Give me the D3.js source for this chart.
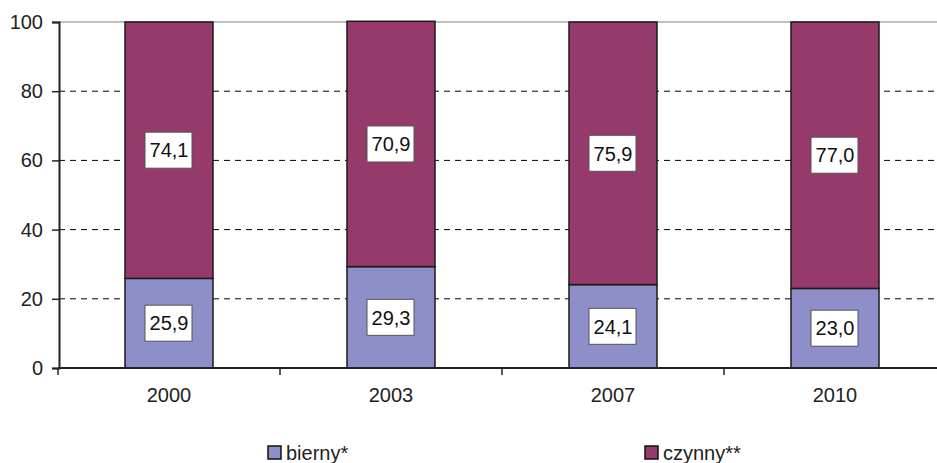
<!DOCTYPE html>
<html><head><meta charset="utf-8">
<script src="https://cdn.jsdelivr.net/npm/d3@7"></script>
<style>body{margin:0;background:#fff}svg{display:block}</style>
</head><body>
<script>
const categories = ["2000","2003","2007","2010"];
const bierny = [25.9, 29.3, 24.1, 23.0];
const czynny = [74.1, 70.9, 75.9, 77.0];
const seriesNames = ["bierny*","czynny**"];
const yTicks = [0,20,40,60,80,100];
const colors = ["#8E8EC8","#963A6B"];

const W=937,H=463;
const svg=d3.select("body").append("svg").attr("width",W).attr("height",H);
const font="Liberation Sans, Arial, sans-serif";
const x=d3.scaleBand().domain(categories).range([58,946]).paddingInner(0.6036).paddingOuter(0.3018);
const y=d3.scaleLinear().domain([0,100]).range([368,22]);

// gridlines
svg.append("g").selectAll("line").data(yTicks.filter(d=>d>0&&d<100)).join("line")
 .attr("x1",59).attr("x2",W).attr("y1",d=>y(d)).attr("y2",d=>y(d))
 .attr("stroke","#000").attr("stroke-width",1).attr("stroke-dasharray","6,5");
svg.append("line").attr("x1",59).attr("x2",W).attr("y1",y(100)).attr("y2",y(100))
 .attr("stroke","#aaa").attr("stroke-width",1.5);

const data=categories.map((c,i)=>({c,vals:[bierny[i],czynny[i]]}));
const stack=[];
data.forEach(d=>{let acc=0;d.vals.forEach((v,k)=>{stack.push({c:d.c,k,y0:acc,y1:acc+v,v});acc+=v;});});

svg.append("g").selectAll("rect").data(stack).join("rect")
 .attr("x",d=>x(d.c)).attr("width",x.bandwidth())
 .attr("y",d=>y(d.y1)).attr("height",d=>y(d.y0)-y(d.y1))
 .attr("fill",d=>colors[d.k]).attr("stroke","#1a1a1a").attr("stroke-width",1.5);

// labels
const lg=svg.append("g").selectAll("g").data(stack).join("g")
 .attr("transform",d=>`translate(${x(d.c)+x.bandwidth()/2},${y((d.y0+d.y1)/2)})`);
lg.append("rect").attr("x",-24).attr("y",-18).attr("width",47).attr("height",36)
 .attr("fill","#fff").attr("stroke","#555").attr("stroke-width",1);
lg.append("text").attr("text-anchor","middle").attr("dy","0.36em")
 .attr("font-family",font).attr("font-size",20).attr("fill","#111")
 .text(d=>d3.format(".1f")(d.v).replace(".",","));

// axes
const ya=svg.append("g").attr("transform","translate(59,0)")
 .call(d3.axisLeft(y).tickValues(yTicks).tickSize(7).tickPadding(9));
ya.select(".domain").attr("stroke","#222").attr("stroke-width",2);
ya.selectAll(".tick line").attr("stroke","#222").attr("stroke-width",1.5);
ya.selectAll("text").attr("font-family",font).attr("font-size",20).attr("fill","#222");

const xa=svg.append("g").attr("transform","translate(0,368)")
 .call(d3.axisBottom(x).tickSize(0).tickPadding(20));
xa.select(".domain").remove();
xa.selectAll("text").attr("font-family",font).attr("font-size",20).attr("fill","#222").attr("dy","0.71em");
svg.append("line").attr("x1",58).attr("x2",W).attr("y1",368).attr("y2",368).attr("stroke","#222").attr("stroke-width",2);
const bounds=categories.map(c=>x(c)-x.step()*x.paddingInner()/2).concat([946]);
svg.append("g").selectAll("line").data(bounds).join("line")
 .attr("x1",d=>d).attr("x2",d=>d).attr("y1",368).attr("y2",375).attr("stroke","#222").attr("stroke-width",1.5);

// legend
const legX=[268,645];
const leg=svg.append("g").selectAll("g").data(seriesNames).join("g")
 .attr("transform",(d,i)=>`translate(${legX[i]},446)`);
leg.append("rect").attr("width",13).attr("height",13).attr("fill",(d,i)=>colors[i]).attr("stroke","#111").attr("stroke-width",1.5);
leg.append("text").attr("x",18).attr("y",14).attr("font-family",font).attr("font-size",20).attr("fill","#222").text(d=>d);
</script>
</body></html>
